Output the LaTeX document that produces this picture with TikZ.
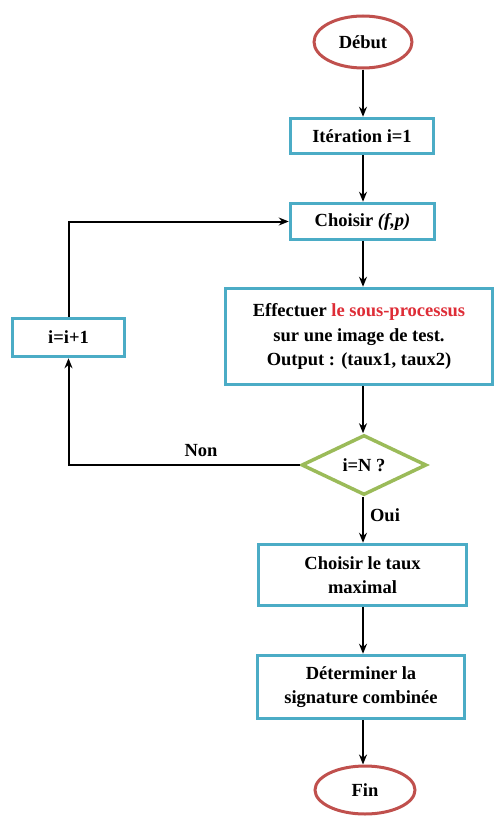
\documentclass[tikz,border=0pt]{standalone}
\usepackage{fontspec}
\setmainfont{Liberation Serif}
\usetikzlibrary{shapes.geometric,arrows.meta}
\definecolor{boxc}{RGB}{75,172,198}
\definecolor{termc}{RGB}{192,80,77}
\definecolor{decc}{RGB}{155,187,89}
\definecolor{redtxt}{RGB}{222,45,55}
\tikzset{
 txt/.style={font=\fontsize{18.5}{24.5}\selectfont\bfseries},
 box/.style={txt, draw=boxc, line width=3.5pt, fill=white, align=center, inner sep=0pt},
 term/.style={txt, ellipse, draw=termc, line width=3pt, fill=white, inner sep=0pt},
 dec/.style={txt, diamond, draw=decc, line width=3.5pt, fill=white, inner sep=0pt},
 lab/.style={txt, inner sep=0pt},
 arr/.style={-{Stealth[length=10pt,width=8pt]}, line width=2pt},
}
\begin{document}
\begin{tikzpicture}[x=1pt,y=-1pt]
\useasboundingbox (0,0) rectangle (496,816);
\node[term, minimum width=98, minimum height=52] (debut) at (363,42) {Début};
\node[box, minimum width=143, minimum height=35] (iter) at (362,136) {Itération i=1};
\node[box, minimum width=144, minimum height=36] (choix) at (362.5,221.5) {Choisir \textit{(f,p)}};
\node[box, minimum width=267, minimum height=96] (eff) at (359,336.5) {Effectuer \textcolor{redtxt}{le sous-processus}\\sur une image de test.\\Output : (taux1, taux2)};
\node[box, minimum width=112, minimum height=38] (inc) at (68.5,337.5) {i=i+1};
\node[dec, minimum width=125, minimum height=60] (test) at (364,465) {i=N ?};
\node[box, minimum width=208, minimum height=61] (max) at (362.5,575) {Choisir le taux\\maximal};
\node[box, minimum width=207, minimum height=63] (sig) at (361,687) {Déterminer la\\signature combinée};
\node[term, minimum width=100, minimum height=48] (fin) at (365,790) {Fin};
\node[lab] (non) at (201,451) {Non};
\node[lab] (oui) at (385,515) {Oui};
\draw[arr] (debut.south) -- (debut.south |- iter.north);
\draw[arr] (iter.south -| debut.south) -- (debut.south |- choix.north);
\draw[arr] (choix.south -| debut.south) -- (debut.south |- eff.north);
\draw[arr] (eff.south -| debut.south) -- (debut.south |- test.north);
\draw[arr] (test.south -| debut.south) -- (debut.south |- max.north);
\draw[arr] (max.south -| debut.south) -- (debut.south |- sig.north);
\draw[arr] (sig.south -| debut.south) -- (debut.south |- fin.north);
\draw[arr] (test.west) -- (test.west -| inc.south) -- (inc.south);
\draw[arr] (inc.north) |- (choix.west);
\end{tikzpicture}
\end{document}
